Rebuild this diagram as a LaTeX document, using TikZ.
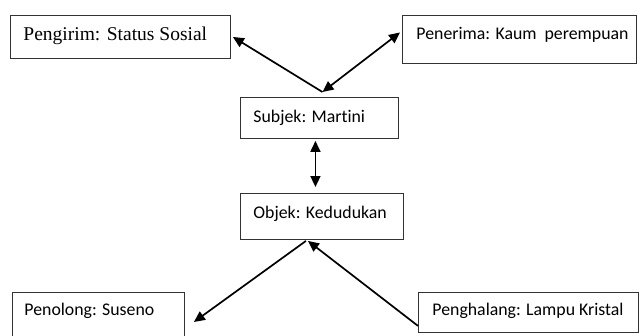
\documentclass[tikz,border=0pt]{standalone}
\usepackage{fontspec}
\setmainfont{Liberation Serif}
\newfontfamily\calibri[Ligatures={NoCommon,NoRare,NoDiscretionary}]{Carlito}
\usetikzlibrary{arrows.meta,calc}
\tikzset{
  box/.style={draw=black!80, line width=0.9pt, inner ysep=0pt, anchor=north west},
  cal/.style={font=\calibri\fontsize{17.8}{20}\selectfont},
  tms/.style={font=\fontsize{19.5}{22}\selectfont},
  arr/.style={line width=1.7pt, -{Triangle[length=11pt,width=10pt]}},
  darr/.style={line width=1.7pt, {Triangle[length=11pt,width=10pt]}-{Triangle[length=11pt,width=10pt]}}
}
\begin{document}
\begin{tikzpicture}[x=1pt,y=-1pt]
\useasboundingbox (0,0) rectangle (640,335);
\fill[white] (0,0) rectangle (640,335);
\clip (0,0) rectangle (640,335);
\node[box,tms,inner xsep=13pt,text height=25pt,text depth=18pt] (peng) at (10,15) {\makebox[194pt][l]{Pengirim: Status Sosial}};
\node[box,cal,inner xsep=14pt,text height=24pt,text depth=24pt] (pen) at (402,15) {\makebox[206pt][l]{Penerima: Kaum\ \ perempuan}};
\node[box,cal,inner xsep=13pt,text height=25pt,text depth=16pt] (subj) at (240,97) {\makebox[132pt][l]{Subjek: Martini}};
\node[box,cal,inner xsep=13pt,text height=25pt,text depth=21pt] (obj) at (240,193) {\makebox[137pt][l]{Objek: Kedudukan}};
\node[box,cal,inner xsep=12pt,text height=23pt,text depth=40pt] (peno) at (12,292) {\makebox[148pt][l]{Penolong: Suseno}};
\node[box,cal,inner xsep=14pt,text height=23pt,text depth=17pt] (pgh) at (418,292) {\makebox[192pt][l]{Penghalang: Lampu Kristal}};
\coordinate (st) at ($(subj.north)+(3pt,5pt)$);
\coordinate (ob) at ($(obj.south)+(-16pt,-1pt)$);
\draw[arr] (st) -- ($(peng.east)+(2pt,0)$);
\draw[darr] (st) -- ($(pen.west)+(-2pt,7pt)$);
\draw[darr] ($(subj.south)+(-4pt,-2pt)$) -- ($(obj.north)+(-6.5pt,6pt)$);
\draw[arr] (ob) -- ($(peno.north east)+(9pt,-30pt)$);
\draw[arr] ($(pgh.south west)+(0,7pt)$) -- ($(ob)+(2pt,0)$);
\end{tikzpicture}
\end{document}
